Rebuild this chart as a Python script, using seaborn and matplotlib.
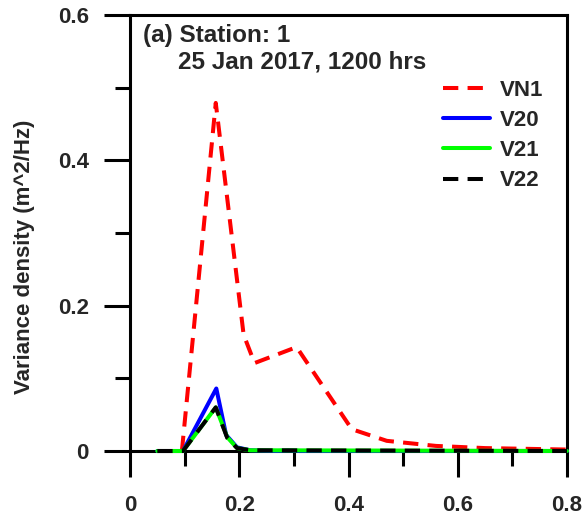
import matplotlib
matplotlib.use("Agg")
import matplotlib.pyplot as plt
import numpy as np
import pandas as pd
import seaborn as sns
from matplotlib.ticker import MultipleLocator

# ---- data ----
freq_vn1 = [0.05, 0.095, 0.157, 0.208, 0.228, 0.305, 0.406, 0.47, 0.56, 0.65, 0.8]
dens_vn1 = [0.0, 0.0, 0.479, 0.160, 0.121, 0.143, 0.030, 0.014, 0.007, 0.004, 0.002]

freq_v20 = [0.05, 0.097, 0.158, 0.176, 0.196, 0.22, 0.27, 0.29, 0.31, 0.8]
dens_v20 = [0.0, 0.0, 0.086, 0.022, 0.005, 0.001, 0.0, 0.0008, 0.0, 0.0]

freq_v21 = [0.05, 0.097, 0.157, 0.178, 0.196, 0.22, 0.8]
dens_v21 = [0.0, 0.0, 0.060, 0.019, 0.004, 0.001, 0.0]

freq_v22 = [0.05, 0.097, 0.157, 0.178, 0.196, 0.22, 0.8]
dens_v22 = [0.0, 0.0, 0.060, 0.018, 0.004, 0.001, 0.0]

series_names = ["VN1", "V20", "V21", "V22"]
series_colors = ["#ff0000", "#0000ff", "#00ff00", "#000000"]

x_ticks = [0, 0.2, 0.4, 0.6, 0.8]
x_tick_labels = ["0", "0.2", "0.4", "0.6", "0.8"]
y_ticks = [0, 0.2, 0.4, 0.6]
y_tick_labels = ["0", "0.2", "0.4", "0.6"]

title_line1 = "(a) Station: 1"
title_line2 = "25 Jan 2017, 1200 hrs"
y_label = "Variance density (m^2/Hz)"

frames = []
for name, f, d in [("VN1", freq_vn1, dens_vn1), ("V20", freq_v20, dens_v20),
                   ("V21", freq_v21, dens_v21), ("V22", freq_v22, dens_v22)]:
    frames.append(pd.DataFrame({"freq": f, "density": d, "series": name}))
df = pd.concat(frames, ignore_index=True)

# ---- styling ----
sns.set_theme(style="white")
plt.rcParams["font.family"] = ["Liberation Sans", "DejaVu Sans"]
plt.rcParams["font.weight"] = "bold"

LW = 2.9
dash = (3.8, 2.3)
dashes = {"VN1": dash, "V20": "", "V21": "", "V22": dash}

fig = plt.figure(figsize=(5.83, 5.17), dpi=100)
ax = fig.add_axes([130 / 583, 1 - 451 / 517, (567 - 130) / 583, (451 - 15) / 517])

sns.lineplot(data=df, x="freq", y="density", hue="series", style="series",
             hue_order=series_names, style_order=series_names,
             palette=dict(zip(series_names, series_colors)), dashes=dashes,
             sort=False, estimator=None, lw=LW, ax=ax, legend=True)

for ln in ax.lines:
    ln.set_clip_on(False)
    ln.set_zorder(3)

ax.set_xlim(0, 0.8)
ax.set_ylim(0, 0.6)
ax.set_xticks(x_ticks)
ax.set_xticklabels(x_tick_labels)
ax.set_yticks(y_ticks)
ax.set_yticklabels(y_tick_labels)
ax.xaxis.set_minor_locator(MultipleLocator(0.1))
ax.yaxis.set_minor_locator(MultipleLocator(0.1))

FS = 16
ax.tick_params(which="major", direction="out", length=18.7, width=2.2,
               labelsize=FS, color="black", bottom=True, left=True,
               top=False, right=False)
ax.tick_params(which="minor", direction="out", length=10.8, width=2.2,
               color="black", bottom=True, left=True, top=False, right=False)
ax.tick_params(axis="x", which="major", pad=13)
ax.tick_params(axis="y", which="major", pad=11)
for lbl in ax.get_xticklabels() + ax.get_yticklabels():
    lbl.set_fontweight("bold")

for sp in ax.spines.values():
    sp.set_visible(True)
    sp.set_color("black")
    sp.set_linewidth(2.2)

ax.set_xlabel("")
ax.set_ylabel(y_label, fontsize=FS, fontweight="bold")
ax.yaxis.set_label_coords((35 - 130) / 437, (451 - 257) / 436)

TFS = 17.5
ax.text(0.030, 0.939, title_line1, transform=ax.transAxes, fontsize=TFS,
        fontweight="bold", ha="left", va="baseline")
ax.text(0.110, 0.878, title_line2, transform=ax.transAxes, fontsize=TFS,
        fontweight="bold", ha="left", va="baseline")

handles, labels = ax.get_legend_handles_labels()
pairs = [(h, l) for h, l in zip(handles, labels) if l in series_names]
leg = ax.legend([p[0] for p in pairs], [p[1] for p in pairs],
                loc="upper left", bbox_to_anchor=((443 - 130) / 437, (451 - 80) / 436),
                frameon=False, fontsize=16, handlelength=2.12, handletextpad=0.45,
                labelspacing=0.41, borderpad=0, borderaxespad=0)
for h in leg.legend_handles:
    h.set_linewidth(LW)
for t in leg.get_texts():
    t.set_fontweight("bold")

fig.savefig("out.png", dpi=100)
